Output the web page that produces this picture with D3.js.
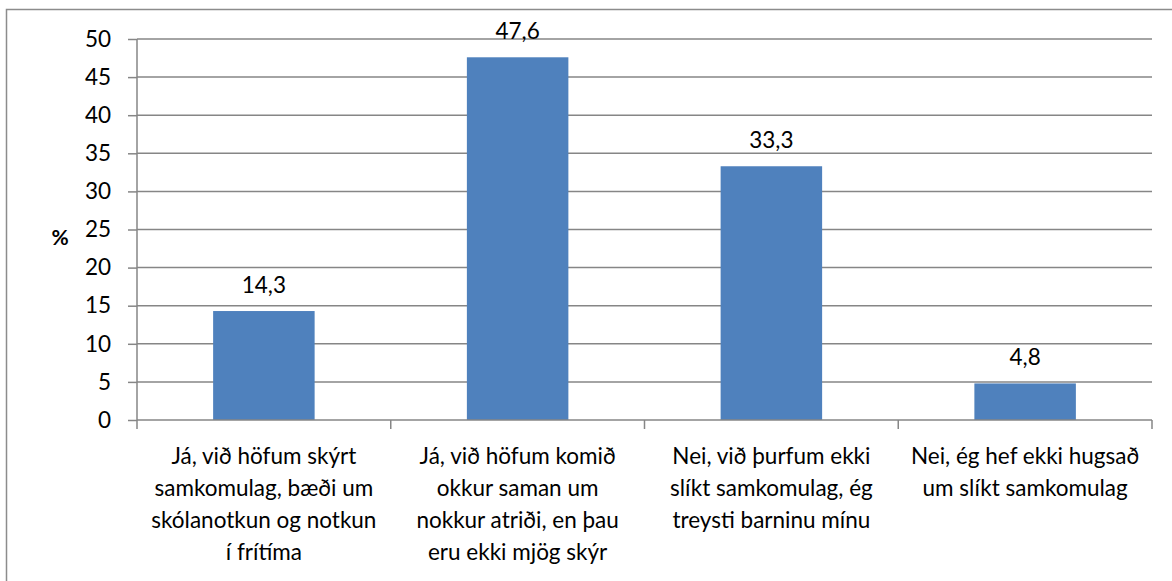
<!DOCTYPE html>
<html><head><meta charset="utf-8">
<script src="https://cdn.jsdelivr.net/npm/d3@7"></script>
<style>body{margin:0;background:#fff;} text{font-family:Lato, "Open Sans", sans-serif;}</style>
</head><body>
<svg id="c" width="1172" height="581"></svg>
<script>
const categories = [
  ["Já, við höfum skýrt","samkomulag, bæði um","skólanotkun og notkun","í frítíma"],
  ["Já, við höfum komið","okkur saman um","nokkur atriði, en þau","eru ekki mjög skýr"],
  ["Nei, við þurfum ekki","slíkt samkomulag, ég","treysti barninu mínu"],
  ["Nei, ég hef ekki hugsað","um slíkt samkomulag"]
];
const values = [14.3, 47.6, 33.3, 4.8];
const valueLabels = ["14,3","47,6","33,3","4,8"];
const yTicks = [0,5,10,15,20,25,30,35,40,45,50];
const yTitle = "%";

(function(){
const svg = d3.select("#c");
const mL = 137, mR = 1152, mT = 39, mB = 420;
const grid = "#868686";
const fs = 22.5;

svg.append("rect").attr("x",6.5).attr("y",9.5).attr("width",1180).attr("height",600)
  .attr("fill","none").attr("stroke","#8c8c8c").attr("stroke-width",1.5);

const x = d3.scaleBand().domain(d3.range(categories.length)).range([mL,mR]).paddingInner(0).paddingOuter(0);
const y = d3.scaleLinear().domain([0,50]).range([mB,mT]);

svg.append("g").selectAll("line").data(yTicks.filter(d=>d>0)).join("line")
  .attr("x1",mL).attr("x2",mR).attr("y1",d=>y(d)).attr("y2",d=>y(d))
  .attr("stroke",grid).attr("stroke-width",1.5);

const bw = x.bandwidth()*0.4;
svg.append("g").selectAll("rect").data(values).join("rect")
  .attr("x",(d,i)=>x(i)+x.bandwidth()/2-bw/2).attr("width",bw)
  .attr("y",d=>y(d)).attr("height",d=>mB-y(d)).attr("fill","#4f81bd");

svg.append("g").selectAll("text").data(values).join("text")
  .attr("x",(d,i)=>x(i)+x.bandwidth()/2).attr("y",d=>y(d)-18)
  .attr("text-anchor","middle").attr("font-size",fs).attr("fill","#000")
  .text((d,i)=>valueLabels[i]);

const ya = d3.axisLeft(y).tickValues(yTicks).tickSize(9).tickPadding(17).tickFormat(d3.format("d"));
const gy = svg.append("g").attr("transform",`translate(${mL},0)`).call(ya);
gy.selectAll("path,line").attr("stroke",grid).attr("stroke-width",1.5);
gy.select(".domain").attr("d",`M0,${mT}V${mB}`);
gy.selectAll("text").attr("font-size",fs).attr("fill","#000").style("font-family","Lato");

const xb = d3.scaleLinear().domain([0,categories.length]).range([mL,mR]);
svg.append("g").selectAll("line").data(d3.range(categories.length+1)).join("line")
  .attr("x1",d=>xb(d)).attr("x2",d=>xb(d)).attr("y1",mB).attr("y2",mB+9)
  .attr("stroke",grid).attr("stroke-width",1.5);
svg.append("line").attr("x1",mL).attr("x2",mR).attr("y1",mB).attr("y2",mB)
  .attr("stroke",grid).attr("stroke-width",1.5);

const cl = svg.append("g").selectAll("text").data(categories).join("text")
  .attr("text-anchor","middle").attr("font-size",fs).attr("fill","#000")
  .attr("x",(d,i)=>x(i)+x.bandwidth()/2).attr("y",464);
cl.selectAll("tspan").data(d=>d).join("tspan")
  .attr("x",function(){return this.parentNode.getAttribute("x");})
  .attr("y",(d,j)=>464+j*32).text(d=>d);

svg.append("text").attr("x",60).attr("y",245).attr("text-anchor","middle")
  .attr("font-size",21).attr("font-weight","bold").attr("fill","#000").text(yTitle);
})();
</script>
</body></html>
